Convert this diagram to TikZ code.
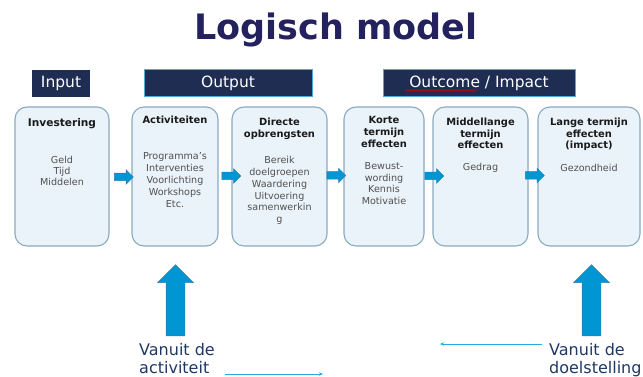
\documentclass[tikz,border=0pt]{standalone}
\usepackage{fontspec}
\setmainfont{DejaVu Sans}
\usetikzlibrary{shapes.arrows,arrows.meta,decorations.pathmorphing}
\definecolor{titlecol}{HTML}{23225E}
\definecolor{headfill}{HTML}{1F2D52}
\definecolor{headline}{HTML}{4FA9D9}
\definecolor{boxfill}{HTML}{EAF3FA}
\definecolor{boxline}{HTML}{8AAABF}
\definecolor{arrowfill}{HTML}{0096D3}
\definecolor{arrowline}{HTML}{2B7FB3}
\definecolor{bodycol}{HTML}{505050}
\definecolor{tcol}{HTML}{1A1A1A}
\definecolor{vancol}{HTML}{1F3864}
\definecolor{thincol}{HTML}{29A9E0}
\begin{document}
\begin{tikzpicture}[x=1pt,y=-1pt,
  header/.style={fill=headfill, text=white, inner sep=0, minimum height=27pt,
    font=\fontsize{15.5}{18}\selectfont},
  stage/.style={draw=boxline, fill=boxfill, line width=1.1pt, rounded corners=12pt,
    inner sep=0, minimum height=139pt},
  stitle/.style={anchor=north, inner sep=0, align=center, text=tcol,
    font=\bfseries\fontsize{9.9}{12}\selectfont},
  sbody/.style={anchor=north, inner sep=0, align=center, text=bodycol,
    font=\fontsize{9.6}{11.7}\selectfont},
  flow/.style={single arrow, draw=arrowline, fill=arrowfill, line width=0.5pt,
    inner sep=3.5pt, minimum height=19pt, single arrow head extend=3.5pt},
  bigup/.style={single arrow, draw=arrowline, fill=arrowfill, line width=0.6pt,
    inner sep=9pt, minimum height=71pt,
    single arrow head extend=8.5pt, shape border rotate=90},
  vanuit/.style={anchor=north west, inner sep=0, align=left, text=vancol,
    font=\fontsize{16}{18}\selectfont},
  thinarrow/.style={draw=thincol, line width=0.8pt, -{Stealth[length=4pt,width=3.5pt]}}
]
\useasboundingbox (0,0) rectangle (643,377);

% title
\node[anchor=base, inner sep=0, text=titlecol, font=\bfseries\fontsize{35}{40}\selectfont]
  (title) at (336,40) {Logisch model};

% headers
\node[header, minimum width=58pt] (hin) at (61,83.5) {Input};
\node[header, draw=headline, line width=1pt, minimum width=168pt] (hout) at (228,83.5) {Output};
\node[header, draw=headline, line width=1pt, minimum width=192pt] (hoc) at (479,83.5) {Outcome / Impact};
\draw[red!85!black, line width=0.45pt, decorate,
  decoration={snake, amplitude=0.8pt, segment length=2pt}] (405,90.5) -- (477,90.5);

% stage boxes
\node[stage, minimum width=94pt] (b1) at (62,176.5) {};
\node[stage, minimum width=86pt] (b2) at (175,176.5) {};
\node[stage, minimum width=95pt] (b3) at (279.5,176.5) {};
\node[stage, minimum width=80pt] (b4) at (384,176.5) {};
\node[stage, minimum width=95pt] (b5) at (480.5,176.5) {};
\node[stage, minimum width=102pt] (b6) at (589,176.5) {};

% box texts
\node[stitle, font=\bfseries\fontsize{10.6}{12}\selectfont] (t1) at (62,118.5) {Investering};
\node[sbody, font=\fontsize{9.6}{11}\selectfont] (c1) at (62,156.5) {Geld\\Tijd\\Middelen};

\node[stitle] (t2) at (175,116) {Activiteiten};
\node[sbody, font=\fontsize{9.6}{12}\selectfont] (c2) at (175,152.5)
  {Programma's\\Interventies\\Voorlichting\\Workshops\\Etc.};

\node[stitle] (t3) at (279.5,118) {Directe\\opbrengsten};
\node[sbody] (c3) at (279.5,156.5)
  {Bereik\\doelgroepen\\Waardering\\Uitvoering\\samenwerkin\\g};

\node[stitle] (t4) at (384,116) {Korte\\termijn\\effecten};
\node[sbody, font=\fontsize{9.6}{11.5}\selectfont] (c4) at (384,162.5)
  {Bewust-\\wording\\Kennis\\Motivatie};

\node[stitle, font=\bfseries\fontsize{9.9}{11.5}\selectfont] (t5) at (480.5,118) {Middellange\\termijn\\effecten};
\node[sbody] (c5) at (480.5,163.5) {Gedrag};

\node[stitle, font=\bfseries\fontsize{9.9}{11.5}\selectfont] (t6) at (589,118) {Lange termijn\\effecten\\(impact)};
\node[sbody] (c6) at (589,164.5) {Gezondheid};

% flow arrows between boxes
\node[flow] (a1) at (122,177) {};
\node[flow] (a2) at (229.5,176) {};
\node[flow] (a3) at (334.5,175.5) {};
\node[flow] (a4) at (432.5,176) {};
\node[flow] (a5) at (533,175.5) {};

% big up arrows
\node[bigup] (up1) at (175.5,305) {};
\node[bigup] (up2) at (591.5,305) {};

% bottom texts
\node[vanuit] (v1) at (139,343.5) {Vanuit de\\activiteit};
\node[vanuit] (v2) at (549,343.5) {Vanuit de\\doelstelling};

% thin arrows
\coordinate (l1) at (225,374);
\coordinate (l2) at (323,374);
\coordinate (r1) at (542,344);
\coordinate (r2) at (440,344);
\draw[thinarrow] (l1) -- (l2);
\draw[thinarrow] (r1) -- (r2);
\end{tikzpicture}
\end{document}
